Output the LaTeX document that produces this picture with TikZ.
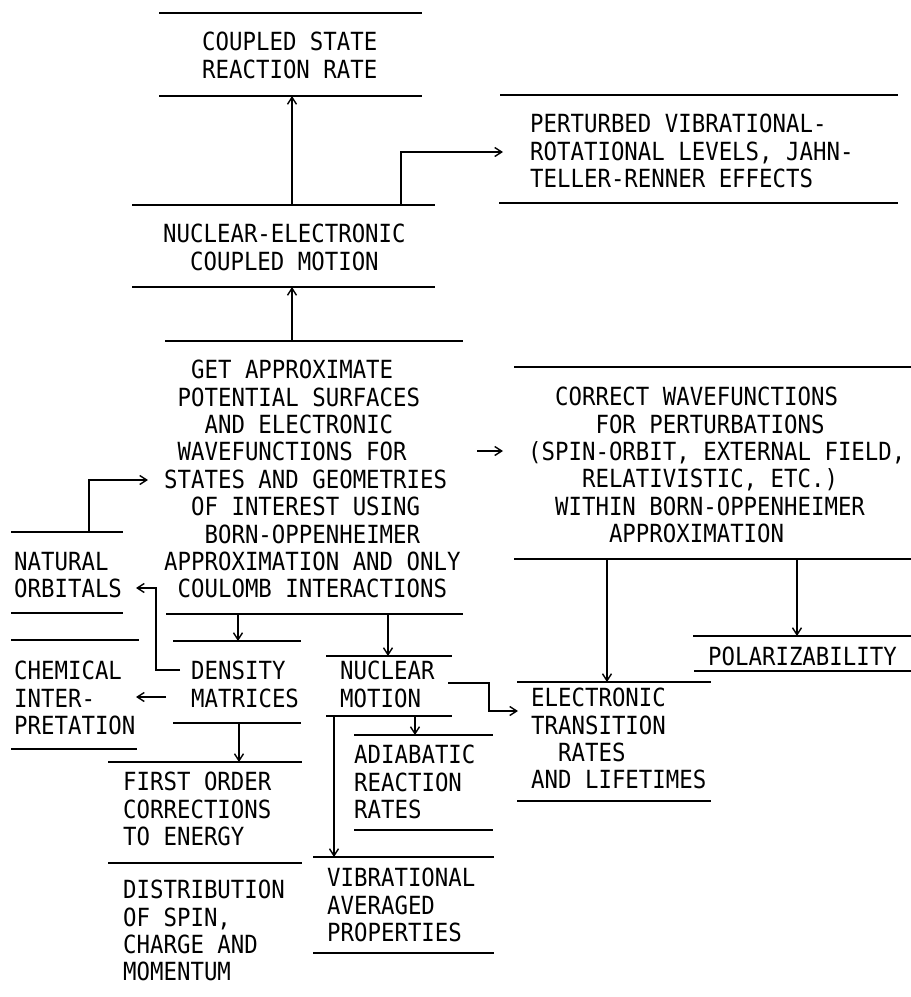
\documentclass[tikz,border=0pt]{standalone}
\usepackage{fontspec}
\newfontfamily\mono[FakeStretch=0.895]{DejaVu Sans Mono}
\usetikzlibrary{arrows.meta}
\newcommand\ind[1]{\hspace*{#1\fontcharwd\font`M}}
\tikzset{
  lbl/.style={anchor=north west, inner sep=0pt, align=left,
    font={\fontsize{25}{27.4}\selectfont\mono}},
  rulebar/.style={line width=1.8pt},
  conn/.style={line width=1.4pt, -{Straight Barb[length=7pt,width=9pt]}},
}
\begin{document}
\begin{tikzpicture}[x=1pt,y=-1pt]
\useasboundingbox[fill=white] (0,0) rectangle (911,997);

% text blocks
\node[lbl] (cs) at (202,32) {COUPLED STATE\\REACTION RATE};
\node[lbl] (ne) at (163,224) {NUCLEAR-ELECTRONIC\\\ind{2}COUPLED MOTION};
\node[lbl] (pv) at (530,114) {PERTURBED VIBRATIONAL-\\ROTATIONAL LEVELS, JAHN-\\TELLER-RENNER EFFECTS};
\node[lbl] (get) at (164,360) {\ind{2}GET APPROXIMATE\\\ind{1}POTENTIAL SURFACES\\\ind{3}AND ELECTRONIC\\\ind{1}WAVEFUNCTIONS FOR\\STATES AND GEOMETRIES\\\ind{2}OF INTEREST USING\\\ind{3}BORN-OPPENHEIMER\\APPROXIMATION AND ONLY\\\ind{1}COULOMB INTERACTIONS};
\node[lbl] (cw) at (528,387) {\ind{2}CORRECT WAVEFUNCTIONS\\\ind{5}FOR PERTURBATIONS\\(SPIN-ORBIT, EXTERNAL FIELD,\\\ind{4}RELATIVISTIC, ETC.)\\\ind{2}WITHIN BORN-OPPENHEIMER\\\ind{6}APPROXIMATION};
\node[lbl] (no) at (14,552) {NATURAL\\ORBITALS};
\node[lbl] (ci) at (14,661) {CHEMICAL\\INTER-\\PRETATION};
\node[lbl] (dm) at (191,661) {DENSITY\\MATRICES};
\node[lbl] (nm) at (340,661) {NUCLEAR\\MOTION};
\node[lbl] (fo) at (123,772) {FIRST ORDER\\CORRECTIONS\\TO ENERGY};
\node[lbl] (ds) at (123,880) {DISTRIBUTION\\OF SPIN,\\CHARGE AND\\MOMENTUM};
\node[lbl] (ad) at (354,745) {ADIABATIC\\REACTION\\RATES};
\node[lbl] (vb) at (327,868) {VIBRATIONAL\\AVERAGED\\PROPERTIES};
\node[lbl] (et) at (531,688) {ELECTRONIC\\TRANSITION\\\ind{2}RATES\\AND LIFETIMES};
\node[lbl] (pz) at (708,647) {POLARIZABILITY};

% horizontal rules
\draw[rulebar] (159,13) -- (422,13);
\draw[rulebar] (159,96) -- (422,96);
\draw[rulebar] (132,205) -- (435,205);
\draw[rulebar] (132,287) -- (435,287);
\draw[rulebar] (500,95) -- (898,95);
\draw[rulebar] (499,203) -- (898,203);
\draw[rulebar] (165,341) -- (463,341);
\draw[rulebar] (166,614) -- (463,614);
\draw[rulebar] (514,367) -- (911,367);
\draw[rulebar] (514,559) -- (911,559);
\draw[rulebar] (11,532) -- (123,532);
\draw[rulebar] (11,613) -- (123,613);
\draw[rulebar] (11,640) -- (139,640);
\draw[rulebar] (11,749) -- (137,749);
\draw[rulebar] (173,641) -- (301,641);
\draw[rulebar] (173,723) -- (301,723);
\draw[rulebar] (326,656) -- (452,656);
\draw[rulebar] (326,716) -- (452,716);
\draw[rulebar] (108,762) -- (302,762);
\draw[rulebar] (108,863) -- (302,863);
\draw[rulebar] (354,735) -- (493,735);
\draw[rulebar] (354,830) -- (493,830);
\draw[rulebar] (313,857) -- (494,857);
\draw[rulebar] (313,953) -- (494,953);
\draw[rulebar] (517,682) -- (711,682);
\draw[rulebar] (517,801) -- (711,801);
\draw[rulebar] (693,636) -- (911,636);
\draw[rulebar] (694,671) -- (911,671);

% connector end points
\coordinate (neT) at (292,205);   \coordinate (csB) at (292,96);
\coordinate (getT) at (292,341);  \coordinate (neB) at (292,287);
\coordinate (neT2) at (401,205);  \coordinate (pvIn) at (503,152);
\coordinate (getR) at (477,451);  \coordinate (cwL) at (503,451);
\coordinate (noT) at (89,532);    \coordinate (getL) at (148,480);
\coordinate (getB1) at (238,614); \coordinate (dmT) at (238,641);
\coordinate (getB2) at (388,614); \coordinate (nmT) at (388,656);
\coordinate (dmL1) at (180,670);  \coordinate (noR) at (136,588);
\coordinate (dmL2) at (166,697);  \coordinate (ciR) at (136,697);
\coordinate (dmB) at (239,723);   \coordinate (foT) at (239,762);
\coordinate (nmB1) at (415,716);  \coordinate (adT) at (415,735);
\coordinate (nmB2) at (334,716);  \coordinate (vbT) at (334,857);
\coordinate (nmR) at (448,683);   \coordinate (etL) at (518,711);
\coordinate (cwB1) at (607,559);  \coordinate (etT) at (607,682);
\coordinate (cwB2) at (797,559);  \coordinate (pzT) at (797,636);

% connectors
\draw[conn] (neT) -- (csB);
\draw[conn] (getT) -- (neB);
\draw[conn] (neT2) |- (pvIn);
\draw[conn] (getR) -- (cwL);
\draw[conn] (noT) |- (getL);
\draw[conn] (getB1) -- (dmT);
\draw[conn] (getB2) -- (nmT);
\draw[conn] (dmL1) -- ++(-24,0) |- (noR);
\draw[conn] (dmL2) -- (ciR);
\draw[conn] (dmB) -- (foT);
\draw[conn] (nmB1) -- (adT);
\draw[conn] (nmB2) -- (vbT);
\draw[conn] (nmR) -- ++(41,0) |- (etL);
\draw[conn] (cwB1) -- (etT);
\draw[conn] (cwB2) -- (pzT);
\end{tikzpicture}
\end{document}
